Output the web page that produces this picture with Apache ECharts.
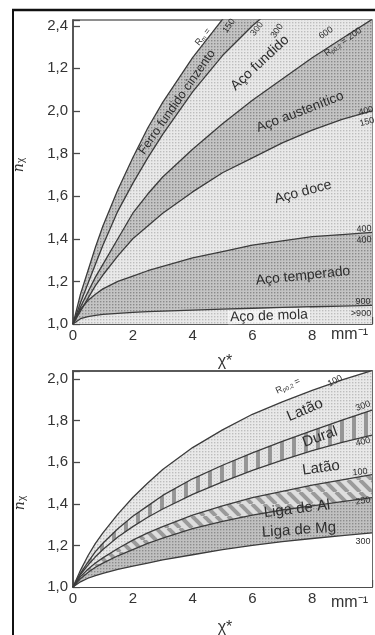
<!DOCTYPE html>
<html><head><meta charset="utf-8">
<script src="https://cdn.jsdelivr.net/npm/echarts@6/dist/echarts.min.js"></script>
<style>html,body{margin:0;padding:0;background:#fff}#c{width:375px;height:635px}</style>
</head><body><div id="c"></div>
<script>
// ---------- data ----------
const xs = [0, 0.25, 0.5, 0.75, 1, 1.5, 2, 2.5, 3, 4, 5, 6, 7, 8, 9, 10];
const xTickLabels = ['0', '2', '4', '6', '8'];
const yTickLabelsTop = ['1,0', '1,2', '1,4', '1,6', '1,8', '2,0', '1,2', '2,4'];
const yTickLabelsBottom = ['1,0', '1,2', '1,4', '1,6', '1,8', '2,0'];

// top chart boundaries (n_chi)
const rm150 = [1, 1.14, 1.25, 1.36, 1.46, 1.63, 1.78, 1.92, 2.04, 2.25, 2.43, 2.59, 2.73, 2.86, 2.98, 3.10];
const rm300 = [1, 1.10, 1.19, 1.28, 1.37, 1.53, 1.66, 1.78, 1.89, 2.09, 2.26, 2.40, 2.52, 2.63, 2.73, 2.82];
const rp200 = [1, 1.08, 1.15, 1.22, 1.28, 1.40, 1.52, 1.61, 1.69, 1.82, 1.94, 2.05, 2.15, 2.25, 2.34, 2.43];
const r400a = [1, 1.06, 1.12, 1.18, 1.23, 1.32, 1.40, 1.46, 1.52, 1.62, 1.71, 1.78, 1.85, 1.91, 1.96, 2.00];
const r400b = [1, 1.07, 1.11, 1.14, 1.165, 1.20, 1.225, 1.25, 1.27, 1.31, 1.34, 1.37, 1.39, 1.41, 1.42, 1.43];
const r900 = [1, 1.025, 1.035, 1.04, 1.045, 1.05, 1.055, 1.058, 1.06, 1.065, 1.07, 1.074, 1.078, 1.081, 1.084, 1.087];

// bottom chart boundaries
const b100a = [1, 1.08, 1.15, 1.21, 1.26, 1.35, 1.43, 1.50, 1.565, 1.67, 1.755, 1.83, 1.89, 1.945, 1.995, 2.04];
const b300a = [1, 1.065, 1.12, 1.17, 1.21, 1.28, 1.34, 1.39, 1.44, 1.52, 1.585, 1.645, 1.70, 1.752, 1.802, 1.85];
const b400 = [1, 1.06, 1.105, 1.145, 1.18, 1.24, 1.29, 1.335, 1.375, 1.445, 1.505, 1.56, 1.61, 1.655, 1.695, 1.73];
const b100b = [1, 1.05, 1.085, 1.115, 1.14, 1.185, 1.225, 1.26, 1.29, 1.345, 1.39, 1.43, 1.46, 1.49, 1.515, 1.54];
const b250 = [1, 1.04, 1.07, 1.095, 1.115, 1.15, 1.18, 1.21, 1.235, 1.28, 1.315, 1.345, 1.37, 1.39, 1.41, 1.43];
const b300b = [1, 1.025, 1.042, 1.055, 1.066, 1.085, 1.10, 1.115, 1.13, 1.155, 1.18, 1.20, 1.218, 1.233, 1.247, 1.26];

// ---------- patterns ----------
function cv(w, h) { const c = document.createElement('canvas'); c.width = w; c.height = h; return c; }
function dots(bg, fg) {
  const c = cv(3, 3), g = c.getContext('2d');
  g.fillStyle = bg; g.fillRect(0, 0, 3, 3);
  g.fillStyle = fg; g.fillRect(1, 1, 1.4, 1.4);
  return { image: c, repeat: 'repeat' };
}
function vstripes() {
  const c = cv(12, 3), g = c.getContext('2d');
  g.fillStyle = '#e4e4e4'; g.fillRect(0, 0, 12, 3);
  g.fillStyle = '#c0c0c0'; g.fillRect(1, 1, 1, 1); g.fillRect(10, 1, 1, 1);
  g.fillStyle = '#969696'; g.fillRect(4, 0, 4, 3);
  return { image: c, repeat: 'repeat' };
}
function dstripes() {
  const c = cv(12, 12), g = c.getContext('2d');
  g.fillStyle = '#dedede'; g.fillRect(0, 0, 12, 12);
  g.strokeStyle = '#9a9a9a'; g.lineWidth = 4;
  for (let k = -12; k <= 12; k += 12) { g.beginPath(); g.moveTo(k, 0); g.lineTo(k + 12, 12); g.stroke(); }
  return { image: c, repeat: 'repeat' };
}
const DARK = dots('#c4c4c4', '#8a8a8a');
const LIGHT = dots('#e9e9e9', '#bdbdbd');
const MG = dots('#c0c0c0', '#8c8c8c');

// ---------- series ----------
const FONT = 'Liberation Sans, Arial, sans-serif';
function pts(arr) { return xs.map((x, i) => [x, arr[i]]); }
const series = [];
function band(arr, fill, gi) {
  series.push({ type: 'line', xAxisIndex: gi, yAxisIndex: gi, data: pts(arr), smooth: false,
    symbol: 'none', lineStyle: { width: 0 }, areaStyle: { color: fill, opacity: 1, origin: 'start' }, z: 1, silent: true });
  series.push({ type: 'line', xAxisIndex: gi, yAxisIndex: gi, data: pts(arr), smooth: false,
    symbol: 'none', lineStyle: { width: 1.3, color: '#3c3c3c', join: 'round' }, z: 3, silent: true });
}
band(rm150, DARK, 0); band(rm300, LIGHT, 0); band(rp200, DARK, 0);
band(r400a, LIGHT, 0); band(r400b, DARK, 0); band(r900, LIGHT, 0);
band(b100a, LIGHT, 1); band(b300a, vstripes(), 1); band(b400, LIGHT, 1);
band(b100b, dstripes(), 1); band(b250, MG, 1); band(b300b, '#ffffff', 1);

function xAxis(gi) {
  return { type: 'value', gridIndex: gi, min: 0, max: 10, interval: 2,
    axisLine: { lineStyle: { color: '#4a4a4a', width: 1.6 } },
    axisTick: { inside: true, length: 7, lineStyle: { color: '#4a4a4a', width: 1.3 } },
    splitLine: { show: false },
    axisLabel: { color: '#333', fontSize: 15, fontFamily: FONT, margin: 4,
      formatter: v => { const i = Math.round(v / 2); return (Math.abs(v - i * 2) < 1e-6 && i < xTickLabels.length) ? xTickLabels[i] : ''; } } };
}
function yAxis(gi, max, labels) {
  return { type: 'value', gridIndex: gi, min: 1.0, max: max, interval: 0.2,
    axisLine: { show: true, lineStyle: { color: '#4a4a4a', width: 1.6 } },
    axisTick: { show: true, inside: true, length: 7, lineStyle: { color: '#4a4a4a', width: 1.3 } },
    splitLine: { show: false },
    axisLabel: { color: '#333', fontSize: 15, fontFamily: FONT, margin: 5,
      formatter: v => { const i = Math.round((v - 1) / 0.2); return (Math.abs(v - 1 - i * 0.2) < 1e-6 && i < labels.length) ? labels[i] : ''; } } };
}

// ---------- annotation texts ----------
const g = [];
function t(text, x, y, deg, size, extra) {
  g.push({ type: 'text', x: x, y: y, rotation: deg * Math.PI / 180, z: 10,
    style: Object.assign({ text: text, fontSize: size, fontFamily: FONT, fill: '#2e2e2e', align: 'center', verticalAlign: 'middle' }, extra || {}) });
}
// frame
g.push({ type: 'line', shape: { x1: 12, y1: 10, x2: 375, y2: 10 }, style: { stroke: '#111', lineWidth: 2.5 }, z: 20 });
g.push({ type: 'line', shape: { x1: 13, y1: 10, x2: 13, y2: 635 }, style: { stroke: '#111', lineWidth: 2 }, z: 20 });

const sub = { rich: { a: { fontSize: 9, fontFamily: FONT, fill: '#333' }, b: { fontSize: 6, fontFamily: FONT, fill: '#333', padding: [4, 0, 0, 0] } } };
// top chart band names
t('Ferro fundido cinzento', 177, 102, 55, 12.5);
t('Aço fundido', 260, 63, 43, 14);
t('Aço austenítico', 300, 112, 21, 13.5);
t('Aço doce', 303, 192, 15, 14);
t('Aço temperado', 303, 276, 6, 14);
t('Aço de mola', 269, 316, 2, 14, { backgroundColor: 'rgba(255,255,255,0.55)', padding: [0, 2] });
// top chart small numbers
const sm = 9;
t('{a|R}{b|m} =', 203, 37, 52, sm, sub);
t('150', 229, 26, 55, sm);
t('300', 257, 29, 52, sm);
t('300', 277, 31, 55, sm);
t('600', 326, 33, 35, sm);
t('{a|R}{b|p0,2} = 200', 343, 42, 35, sm, sub);
t('400', 366, 111, 15, sm);
t('150', 367, 122, 15, sm);
t('400', 364, 229, 4, sm);
t('400', 364, 240, 4, sm);
t('900', 363, 302, 0, sm);
t('>900', 361, 314, 0, sm);

// bottom chart band names
t('Latão', 305, 410, 23, 15);
t('Dural', 320, 437, 20, 15);
t('Latão', 321, 468, 8, 15);
t('Liga de Al', 297, 509, 7, 15);
t('Liga de Mg', 299, 530, 4, 15);
t('{a|R}{b|p0,2} =', 288, 386, 25, sm, sub);
t('100', 335, 381, 28, sm);
t('300', 363, 406, 20, sm);
t('400', 363, 442, 15, sm);
t('100', 360, 472, 5, sm, { textDecoration: 'underline' });
t('250', 363, 501, 8, sm);
t('300', 363, 542, 0, sm);

// axis names
const nx = { rich: { n: { fontSize: 14, fontStyle: 'italic', fontFamily: 'DejaVu Serif, serif', fill: '#333' }, c: { fontSize: 10, fontFamily: FONT, fill: '#333', padding: [5, 0, 0, 0] } } };
t('{n|n}{c|χ}', 19, 165, 90, 14, nx);
t('{n|n}{c|χ}', 20, 503, 90, 14, nx);
t('χ*', 225, 362, 0, 16, { fill: '#333' });
t('χ*', 225, 628, 0, 16, { fill: '#333' });
t('mm⁻¹', 331, 335, 0, 16, { align: 'left', fill: '#333' });
t('mm⁻¹', 331, 603, 0, 16, { align: 'left', fill: '#333' });

const chart = echarts.init(document.getElementById('c'), null, { renderer: 'canvas' });
chart.setOption({
  animation: false,
  backgroundColor: '#fff',
  grid: [
    { left: 73, top: 20, width: 304, height: 304, show: true, borderColor: '#6a6a6a', borderWidth: 1.5, backgroundColor: 'transparent' },
    { left: 73, top: 371, width: 304, height: 216, show: true, borderColor: '#5a5a5a', borderWidth: 1.8, backgroundColor: 'transparent' }
  ],
  xAxis: [xAxis(0), xAxis(1)],
  yAxis: [yAxis(0, 2.427, yTickLabelsTop), yAxis(1, 2.038, yTickLabelsBottom)],
  series: series,
  graphic: g
});
</script></body></html>
